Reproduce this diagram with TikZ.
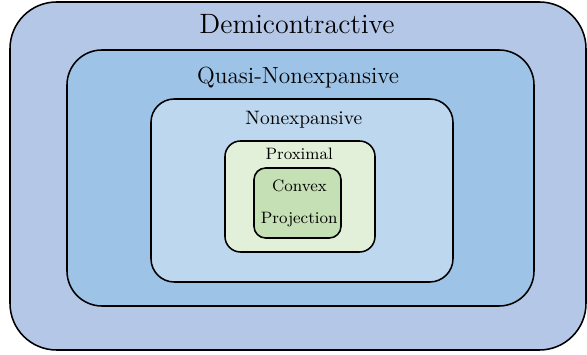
\documentclass[tikz,border=0pt]{standalone}
\usepackage{xcolor}
\usepackage{tikz}
\definecolor{ensdemi}{HTML}{B4C7E7}
\definecolor{ensquasi}{HTML}{9DC3E6}
\definecolor{ensnonexp}{HTML}{BDD7EE}
\definecolor{ensprox}{HTML}{E2F0D9}
\definecolor{ensconv}{HTML}{C5E0B4}

\begin{document}
\begin{tikzpicture}[x=0.515pt,y=-0.515pt,line width=0.8pt]
  \useasboundingbox (0,0) rectangle (587,355);
  % ensembles imbriques : coins / rayon / couleur
  \foreach \a/\b/\c/\d/\r/\col in {10/2/586/350/24/ensdemi, 67/50/534/306/18/ensquasi, 151/99/453/282/12/ensnonexp, 225/141/375/252/8/ensprox, 254/168/341/238/6/ensconv} {
    \filldraw[fill=\col,draw=black,rounded corners=\r pt] (\a,\b) rectangle (\c,\d);
  }
  % noms des classes
  \node[font=\Large,anchor=base] (demi) at (297,33.3){Demicontractive};
  \node[font=\large,anchor=base] (quasi) at (298,84){Quasi-Nonexpansive};
  \node[font=\normalsize,anchor=base] (nonexp) at (303.8,125){Nonexpansive};
  \node[font=\fontsize{8.5}{10}\selectfont,anchor=base] (prox) at (299.2,159.3){Proximal};
  \node[font=\fontsize{8.5}{10}\selectfont,anchor=base] (conv) at (299.5,191.7){Convex};
  \node[font=\fontsize{8.5}{10}\selectfont,anchor=base] (proj) at (299.2,224){Projection};
\end{tikzpicture}
\end{document}
